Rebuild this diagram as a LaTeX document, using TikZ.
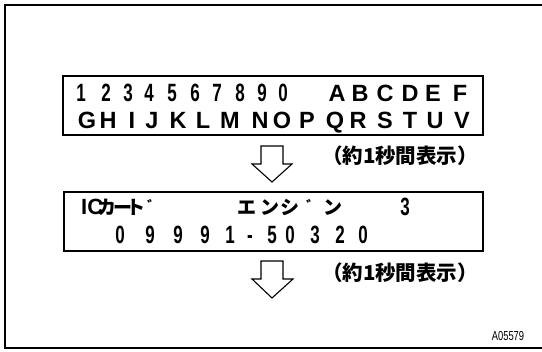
\documentclass[tikz,border=0pt]{standalone}
\usepackage{fontspec}
\setmainfont{Liberation Sans}
\newfontfamily\jp{Noto Sans CJK JP}
\begin{document}
\begin{tikzpicture}[x=1pt,y=-1pt,
  lcd/.style={inner sep=0pt,anchor=base,font=\bfseries\fontsize{23.5}{23.5}\selectfont},
  dig/.style={inner sep=0pt,anchor=base,font=\bfseries\fontsize{25}{25}\selectfont,xscale=0.68},
  kana/.style={inner sep=0pt,anchor=base,font=\jp\bfseries\fontsize{19}{19}\selectfont},
  dakuten/.style={inner sep=0pt,anchor=base,font=\jp\bfseries\fontsize{14}{14}\selectfont},
  note/.style={inner sep=0pt,font=\jp\bfseries\fontsize{20.5}{20.5}\selectfont},
  dispbox/.style={draw,line width=1.6pt},
  hollow/.style={draw,line width=1.1pt,fill=white,line join=miter}]
\useasboundingbox (0,0) rectangle (542,352);
% outer frame
\draw[line width=1.4pt] (542,5) -- (5,5) -- (5,348) -- (542,348);
% display boxes
\draw[dispbox] (63,76) rectangle (483,135);
\draw[dispbox] (64,192) rectangle (483,251);
% row 1 digits
\foreach \c/\x [count=\i] in {1/81,2/106,3/128,4/149,5/172,6/195,7/217,8/240,9/262,0/283}
  \node[dig] (ra\i) at (\x,102) {\c};
% row 1 letters
\foreach \c/\x [count=\i] in {A/337,B/360,C/385,D/410,E/433,F/460}
  \node[lcd] (rb\i) at (\x,102) {\c};
% row 2 letters
\foreach \c/\x [count=\i] in {G/87,H/108,I/132,J/152,K/178,L/203,M/230,N/260,O/282,P/307,Q/335,R/358,S/385,T/410,U/435,V/462}
  \node[lcd] (rc\i) at (\x,129) {\c};
% box 2 row 1
\node[lcd,anchor=base west,font=\bfseries\fontsize{22}{22}\selectfont] (ic) at (81,215) {IC};
\foreach \c/\x [count=\i] in {カ/107,ー/123,ト/136,エ/247,ン/270,シ/290,ン/333}
  \node[kana] (k\i) at (\x,215) {\c};
\node[dakuten] (dk1) at (154,212) {゛};
\node[dakuten] (dk2) at (313,212) {゛};
\node[dig] (three) at (405,216) {3};
% box 2 row 2
\foreach \c/\x [count=\i] in {0/120,9/150,9/178,9/205,1/230,-/250,5/272,0/290,3/315,2/340,0/363}
  \node[dig] (rd\i) at (\x,244) {\c};
% arrows
\draw[hollow] (261,146) coordinate (a1) -- (283,146) -- (283,164) -- (292,164) -- (272,182) coordinate (a1tip) -- (252,164) -- (261,164) -- cycle;
\draw[hollow] (261,261) coordinate (a2) -- (283,261) -- (283,279) -- (293,279) -- (272,298) coordinate (a2tip) -- (252,279) -- (261,279) -- cycle;
% notes
\node[note] (n1) at (400,156) {（約1秒間表示）};
\node[note] (n2) at (400,273) {（約1秒間表示）};
% code
\node[inner sep=0pt,font=\fontsize{13}{13}\selectfont,xscale=0.72] (code) at (508,336) {A05579};
\end{tikzpicture}
\end{document}
